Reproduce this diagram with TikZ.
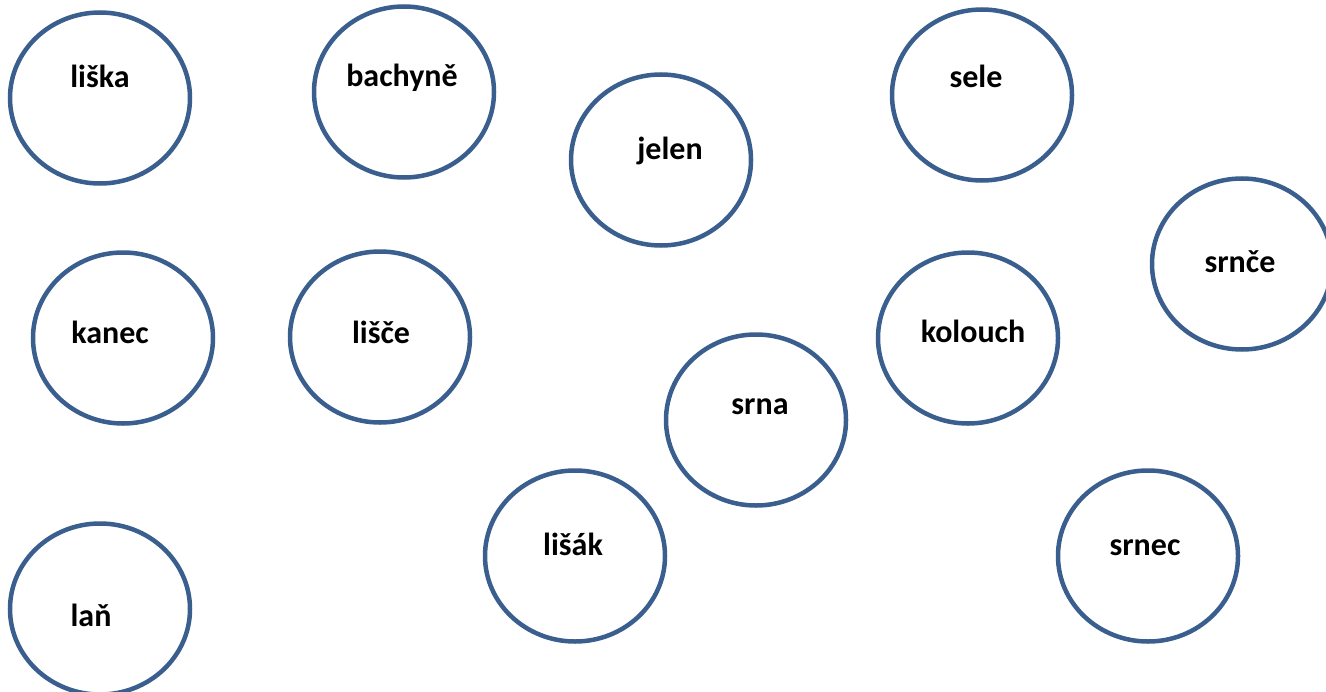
\documentclass[tikz,border=0pt]{standalone}
\usepackage{fontspec}
\setmainfont{Carlito}
\usetikzlibrary{shapes.geometric}
\definecolor{ringblue}{HTML}{3A5F8E}
\tikzset{
  blob/.style={ellipse, draw=ringblue, line width=4.5bp, minimum width=180bp, minimum height=171bp, inner sep=0pt},
  lbl/.style={anchor=base, inner sep=0pt, font=\fontsize{32bp}{38bp}\selectfont\bfseries}
}
\begin{document}
\begin{tikzpicture}[x=1bp,y=1bp]
\useasboundingbox (0,0) rectangle (1326,-691);
\node[blob] (liska) at (100,-98) {};
\node[lbl] (liskaT) at (100,-88) {liška};
\node[blob] (bachyne) at (404,-92) {};
\node[lbl] (bachyneT) at (402,-87) {bachyně};
\node[blob] (jelen) at (661,-160) {};
\node[lbl] (jelenT) at (670,-159) {jelen};
\node[blob] (sele) at (982,-95) {};
\node[lbl] (seleT) at (976,-88) {sele};
\node[blob] (srnce) at (1242,-264) {};
\node[lbl] (srnceT) at (1240,-272) {srnče};
\node[blob] (kanec) at (123,-338) {};
\node[lbl] (kanecT) at (110,-343) {kanec};
\node[blob] (lisce) at (380,-337) {};
\node[lbl] (lisceT) at (381,-343) {lišče};
\node[blob] (kolouch) at (968,-338) {};
\node[lbl] (kolouchT) at (973,-342) {kolouch};
\node[blob] (srna) at (756,-420) {};
\node[lbl] (srnaT) at (760,-414) {srna};
\node[blob] (lisak) at (575,-556) {};
\node[lbl] (lisakT) at (573,-555) {lišák};
\node[blob] (srnec) at (1148,-556) {};
\node[lbl] (srnecT) at (1145,-555) {srnec};
\node[blob] (lan) at (100,-609) {};
\node[lbl] (lanT) at (91,-626) {laň};
\end{tikzpicture}
\end{document}
